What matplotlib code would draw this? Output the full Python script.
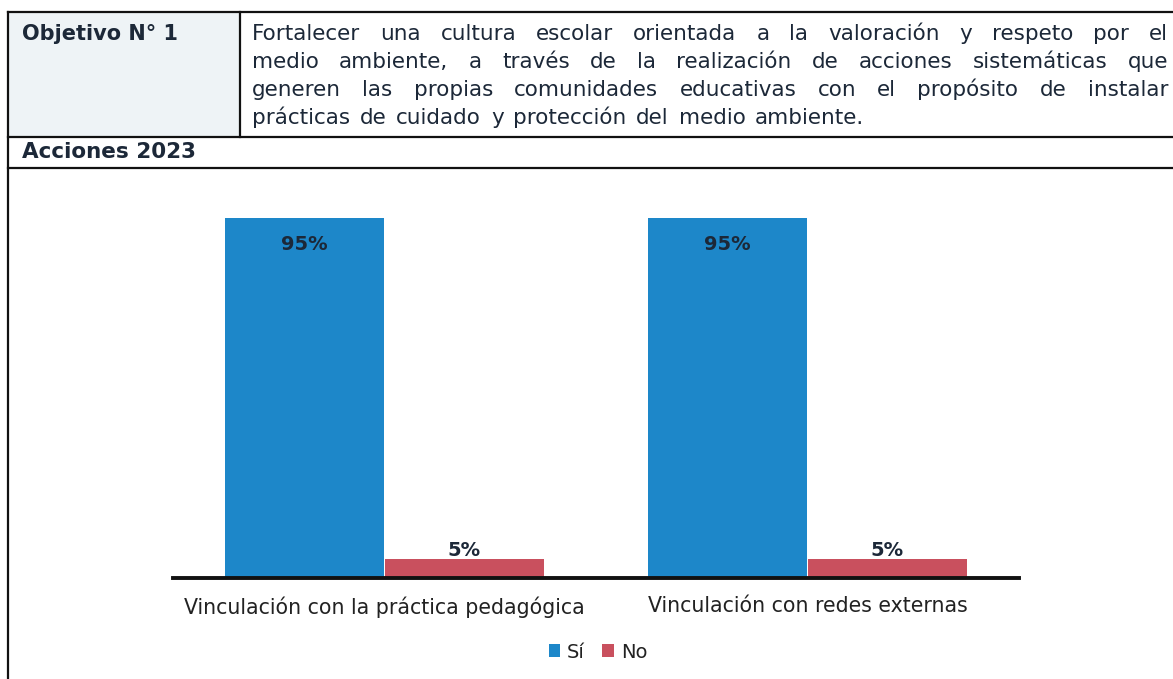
import matplotlib
matplotlib.use("Agg")
import matplotlib.pyplot as plt
import numpy as np

# chart data
categories = ["Vinculación con la práctica pedagógica", "Vinculación con redes externas"]
series_names = ["Sí", "No"]
si_values = [95, 95]
no_values = [5, 5]

header_label = "Objetivo N° 1"
header_lines = [
    "Fortalecer una cultura escolar orientada a la valoración y respeto por el",
    "medio ambiente, a través de la realización de acciones sistemáticas que",
    "generen las propias comunidades educativas con el propósito de instalar",
    "prácticas de cuidado y protección del medio ambiente.",
]
section_label = "Acciones 2023"

W, H = 1173, 679
BLUE = "#1d87c9"
RED = "#c9505e"
INK = "#1c2838"

plt.rcParams["font.family"] = ["DejaVu Sans"]

fig = plt.figure(figsize=(W / 100, H / 100), dpi=100)
fig.patch.set_facecolor("white")


def fx(px):
    return px / W


def fy(py):
    return 1 - py / H


# table frame
line_kw = dict(color="#111111", lw=1.6, transform=fig.transFigure, figure=fig)
fig.patches.append(plt.Rectangle((fx(9), fy(137)), fx(231), 125 / H, transform=fig.transFigure,
                                 facecolor="#eef3f6", edgecolor="none", zorder=0))
for y in (12, 137, 168):
    fig.add_artist(plt.Line2D([fx(8), 1], [fy(y), fy(y)], **line_kw))
fig.add_artist(plt.Line2D([fx(8), fx(8)], [fy(12), 0], **line_kw))
fig.add_artist(plt.Line2D([fx(240), fx(240)], [fy(12), fy(137)], **line_kw))

fig.text(fx(22), fy(40.5), header_label, fontsize=15, fontweight="bold", color=INK, va="baseline")
fig.text(fx(22), fy(158.5), section_label, fontsize=15.5, fontweight="bold", color=INK, va="baseline")

# justified paragraph
renderer = fig.canvas.get_renderer()
x_left, x_right = 252, 1168
for i, line in enumerate(header_lines):
    y = fy(40.5 + i * 27.7)
    words = line.split()
    texts = [fig.text(0, y, w, fontsize=15.5, color=INK, va="baseline") for w in words]
    widths = [t.get_window_extent(renderer).width for t in texts]
    if i < len(header_lines) - 1:
        gap = (x_right - x_left - sum(widths)) / (len(words) - 1)
    else:
        gap = 15.5 * 100 / 72 * 0.45
    x = x_left
    for t, w in zip(texts, widths):
        t.set_x(fx(x))
        x += w + gap

# bar chart
ax = fig.add_axes([fx(173), 1 - 578 / H, fx(846), 379 / H])
x = np.arange(len(categories))
bw = 0.374
off = 0.189
b1 = ax.bar(x - off, si_values, bw, color=BLUE, label=series_names[0])
b2 = ax.bar(x + off, no_values, bw, color=RED, label=series_names[1])
ax.set_xlim(-0.5, 1.5)
ax.set_ylim(0, 100)

for rect, v in zip(b1, si_values):
    ax.annotate(f"{v}%", (rect.get_x() + rect.get_width() / 2, v), xytext=(0, -27),
                textcoords="offset pixels", ha="center", va="center",
                fontsize=14, fontweight="bold", color=INK)
for rect, v in zip(b2, no_values):
    ax.annotate(f"{v}%", (rect.get_x() + rect.get_width() / 2, v), xytext=(0, 9),
                textcoords="offset pixels", ha="center", va="center",
                fontsize=14, fontweight="bold", color=INK)

for s in ("top", "right", "left"):
    ax.spines[s].set_visible(False)
ax.spines["bottom"].set_linewidth(2.8)
ax.spines["bottom"].set_color("#111111")
ax.set_yticks([])
ax.set_xticks(x)
ax.set_xticklabels(categories, fontsize=14.8, color="#222222")
ax.tick_params(axis="x", length=0, pad=13)

fig.legend(handles=[b1, b2], labels=series_names, loc="center",
           bbox_to_anchor=(fx(598), fy(652)), ncol=2, frameon=False,
           fontsize=14, handlelength=0.6, handleheight=0.6, handletextpad=0.35,
           columnspacing=0.9, labelcolor="#222222")

fig.savefig("out.png", dpi=100, facecolor="white")
